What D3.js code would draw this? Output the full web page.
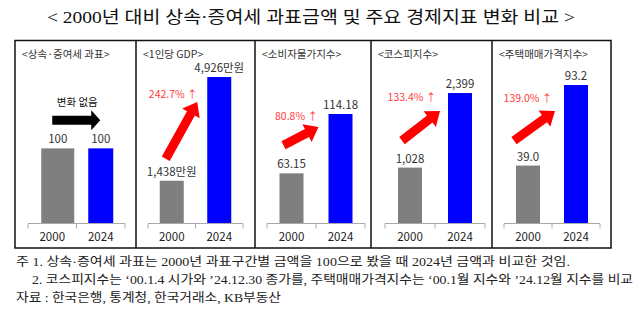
<!DOCTYPE html>
<html><head><meta charset="utf-8">
<script src="https://cdn.jsdelivr.net/npm/d3@7"></script>
<style>
html,body{margin:0;padding:0;background:#fff;}
svg{display:block;}
</style></head>
<body>
<script>
// ---------- data ----------
const title = "< 2000년 대비 상속·증여세 과표금액 및 주요 경제지표 변화 비교 >";
const categories = ["2000", "2024"];
const panelTitles = ["<상속·증여세 과표>", "<1인당 GDP>", "<소비자물가지수>", "<코스피지수>", "<주택매매가격지수>"];
const values2000 = [100, 1438, 63.15, 1028, 39.0];
const values2024 = [100, 4926, 114.18, 2399, 93.2];
const labels2000 = ["100", "1,438만원", "63.15", "1,028", "39.0"];
const labels2024 = ["100", "4,926만원", "114.18", "2,399", "93.2"];
const changeLabels = ["변화 없음", "242.7% ↑", "80.8% ↑", "133.4% ↑", "139.0% ↑"];
const yDomains = [[0, 195], [0, 4926], [20, 146], [0, 2694], [0, 98.6]];
const notes = [
  "주 1. 상속·증여세 과표는 2000년 과표구간별 금액을 100으로 봤을 때 2024년 금액과 비교한 것임.",
  "2. 코스피지수는 ‘00.1.4 시가와 ’24.12.30 종가를, 주택매매가격지수는 ‘00.1월 지수와 ’24.12월 지수를 비교",
  "자료 : 한국은행, 통계청, 한국거래소, KB부동산"
];

// ---------- layout ----------
const W = 640, H = 322;
const panelEdges = [15, 136, 255, 371, 492, 611];
const axisInset = [[13, 11], [12, 12], [12, 6], [14, 7], [12, 11]];
const barW = [[33, 25], [24, 24], [24, 24], [24, 24], [24, 24]];
const barShift = [[5.5, 0], [0, 0], [0, 0], [0, 0], [0, 0]];
// arrow: tail offset from 2000 bar (left, top), tip offset from 2024 bar (left, top)
const arrowOff = [[11, -28, 12, -28], [6, -22, -10, 25], [4, -28, -10, 13], [4, -27, -8, 18], [-2, -25, -9, 26]];
const changeOff = [[-23, -18], [-24, -8], [-22, -11], [-28, -14], [-27, -13]];
const yTop = 77, yBot = 223.5;
const sans = "'Noto Sans CJK KR','Noto Sans',sans-serif";
const serif = "'Liberation Serif','DejaVu Serif','Noto Sans CJK KR',serif";

const svg = d3.select("body").append("svg").attr("width", W).attr("height", H);

// title
svg.append("text").attr("x", 47).attr("y", 23)
  .attr("font-family", serif).attr("font-size", 17).attr("fill", "#111")
  .attr("textLength", 528).attr("lengthAdjust", "spacingAndGlyphs")
  .text(title);

function arrowPath(x0, y0, x1, y1, sw, hw, hl) {
  const dx = x1 - x0, dy = y1 - y0, L = Math.hypot(dx, dy);
  const ux = dx / L, uy = dy / L, nx = -uy, ny = ux;
  const bx = x1 - ux * hl, by = y1 - uy * hl;
  const pts = [
    [x0 + nx * sw, y0 + ny * sw], [bx + nx * sw, by + ny * sw], [bx + nx * hw, by + ny * hw],
    [x1, y1],
    [bx - nx * hw, by - ny * hw], [bx - nx * sw, by - ny * sw], [x0 - nx * sw, y0 - ny * sw]
  ];
  return "M" + pts.map(p => p.join(",")).join("L") + "Z";
}

for (let i = 0; i < 5; i++) {
  const g = svg.append("g");
  const x0 = panelEdges[i], x1 = panelEdges[i + 1];
  const ax0 = x0 + axisInset[i][0], ax1 = x1 - axisInset[i][1];
  const x = d3.scaleBand().domain(categories).range([ax0, ax1]);
  const y = d3.scaleLinear().domain(yDomains[i]).range([yBot, yTop]);
  const vals = [values2000[i], values2024[i]];
  const labs = [labels2000[i], labels2024[i]];

  // panel title
  g.append("text").attr("x", x0 + 7).attr("y", 58)
    .attr("font-family", sans).attr("font-size", 10.5).attr("fill", "#333")
    .text(panelTitles[i]);

  const bars = categories.map((c, j) => {
    const w = barW[i][j];
    const bx = x(c) + x.bandwidth() / 2 - w / 2 + barShift[i][j];
    return {c, v: vals[j], lab: labs[j], bx, w, top: y(vals[j])};
  });

  g.selectAll("rect.bar").data(bars).join("rect").attr("class", "bar")
    .attr("x", d => d.bx).attr("width", d => d.w)
    .attr("y", d => d.top).attr("height", d => yBot - d.top)
    .attr("fill", (d, j) => j === 0 ? "#7f7f7f" : "#0000ff");

  g.selectAll("text.val").data(bars).join("text").attr("class", "val")
    .attr("x", d => d.bx + d.w / 2).attr("y", d => d.top - 5)
    .attr("text-anchor", "middle").attr("font-family", sans).attr("font-size", 11.5)
    .attr("fill", "#333").text(d => d.lab);

  // axis
  const axis = d3.axisBottom(x).tickSize(0).tickPadding(9);
  const ag = g.append("g").attr("transform", `translate(0,${yBot})`).call(axis);
  ag.select(".domain").remove();
  ag.selectAll("text").attr("font-family", sans).attr("font-size", 11.5).attr("fill", "#222");
  g.append("path")
    .attr("d", `M${ax0},${yBot + 5}V${yBot}H${ax1}V${yBot + 5}M${x(categories[1])},${yBot}V${yBot + 5}`)
    .attr("fill", "none").attr("stroke", "#aaa").attr("stroke-width", 1);

  // arrow annotation
  const o = arrowOff[i];
  const tx = bars[0].bx + o[0], ty = bars[0].top + o[1];
  const hx = bars[1].bx + o[2], hy = bars[1].top + o[3];
  const isFlat = i === 0;
  g.append("path").attr("d", isFlat ? arrowPath(tx, ty, hx, hy, 4.5, 10, 9) : arrowPath(tx, ty, hx, hy, 4.5, 10, 13))
    .attr("fill", isFlat ? "#000" : "#ff0000");
  g.append("text").attr("x", hx + changeOff[i][0]).attr("y", hy + changeOff[i][1])
    .attr("dy", "0.35em").attr("text-anchor", "middle")
    .attr("font-family", sans).attr("font-size", 10.5)
    .attr("fill", isFlat ? "#111" : "#ff3b3b").text(changeLabels[i]);
}

// frame
svg.append("rect").attr("x", panelEdges[0]).attr("y", 40.5)
  .attr("width", panelEdges[5] - panelEdges[0]).attr("height", 248 - 40.5)
  .attr("fill", "none").attr("stroke", "#111").attr("stroke-width", 1.5);
svg.selectAll("line.div").data(panelEdges.slice(1, 5)).join("line").attr("class", "div")
  .attr("x1", d => d).attr("x2", d => d).attr("y1", 40.5).attr("y2", 248)
  .attr("stroke", "#111").attr("stroke-width", 1.5);

// notes
const noteX = [16, 32, 16], noteY = [266, 284, 302], noteW = [554, 601, 265];
svg.selectAll("text.note").data(notes).join("text").attr("class", "note")
  .attr("x", (d, i) => noteX[i]).attr("y", (d, i) => noteY[i])
  .attr("font-family", serif).attr("font-size", 12.5).attr("fill", "#222")
  .attr("textLength", (d, i) => noteW[i]).attr("lengthAdjust", "spacingAndGlyphs")
  .text(d => d);
</script>
</body></html>
